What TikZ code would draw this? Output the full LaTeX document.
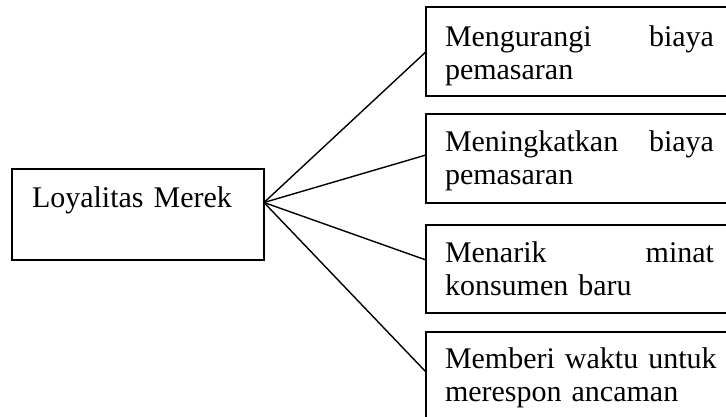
\documentclass[tikz,border=0pt]{standalone}
\usepackage{fontspec}
\setmainfont{Liberation Serif}
% first line of each caption is spread across the full text width
\newcommand{\fullline}[1]{\hbox to 269pt{#1}}
\begin{document}
\begin{tikzpicture}[x=1pt, y=-1pt,
  box/.style={draw, line width=2pt, inner sep=0pt, outer sep=0pt,
    anchor=north west, minimum width=307pt, minimum height=88.5pt},
  mainbox/.style={draw, line width=2pt, inner sep=0pt, outer sep=0pt,
    anchor=north west, minimum width=252pt, minimum height=91pt},
  txt/.style={anchor=base west, inner sep=0pt, outer sep=0pt,
    font=\fontsize{30}{33}\selectfont, text width=269pt},
  link/.style={line width=1.4pt}]
  \useasboundingbox (0,0) rectangle (726,417);
  \clip (0,0) rectangle (726,417);

  % central concept
  \node[mainbox] (lm) at (12,169) {};
  \node[txt, text width=220pt] (lmt) at (32,207.5) {Loyalitas Merek};
  \coordinate (hub) at ([yshift=12pt]lm.east);

  % consequences
  \node[box] (b1) at (426,7.5) {};
  \node[txt] (t1) at (445,46.5) {\fullline{Mengurangi\hfil biaya}\\pemasaran};

  \node[box] (b2) at (426,114.5) {};
  \node[txt] (t2) at (445,152) {\fullline{Meningkatkan\hfil biaya}\\pemasaran};

  \node[box] (b3) at (426,224.5) {};
  \node[txt] (t3) at (445,262) {\fullline{Menarik\hfil minat}\\konsumen baru};

  \node[box] (b4) at (426,332) {};
  \node[txt] (t4) at (445,368) {\fullline{Memberi \hfil waktu \hfil untuk}\\merespon ancaman};

  % connectors fanning out from the central box
  \draw[link] (hub) -- (b1.west);
  \draw[link] (hub) -- ([yshift=3.75pt]b2.west);
  \draw[link] (hub) -- ([yshift=8.75pt]b3.west);
  \draw[link] (hub) -- ([yshift=4.25pt]b4.west);
\end{tikzpicture}
\end{document}
